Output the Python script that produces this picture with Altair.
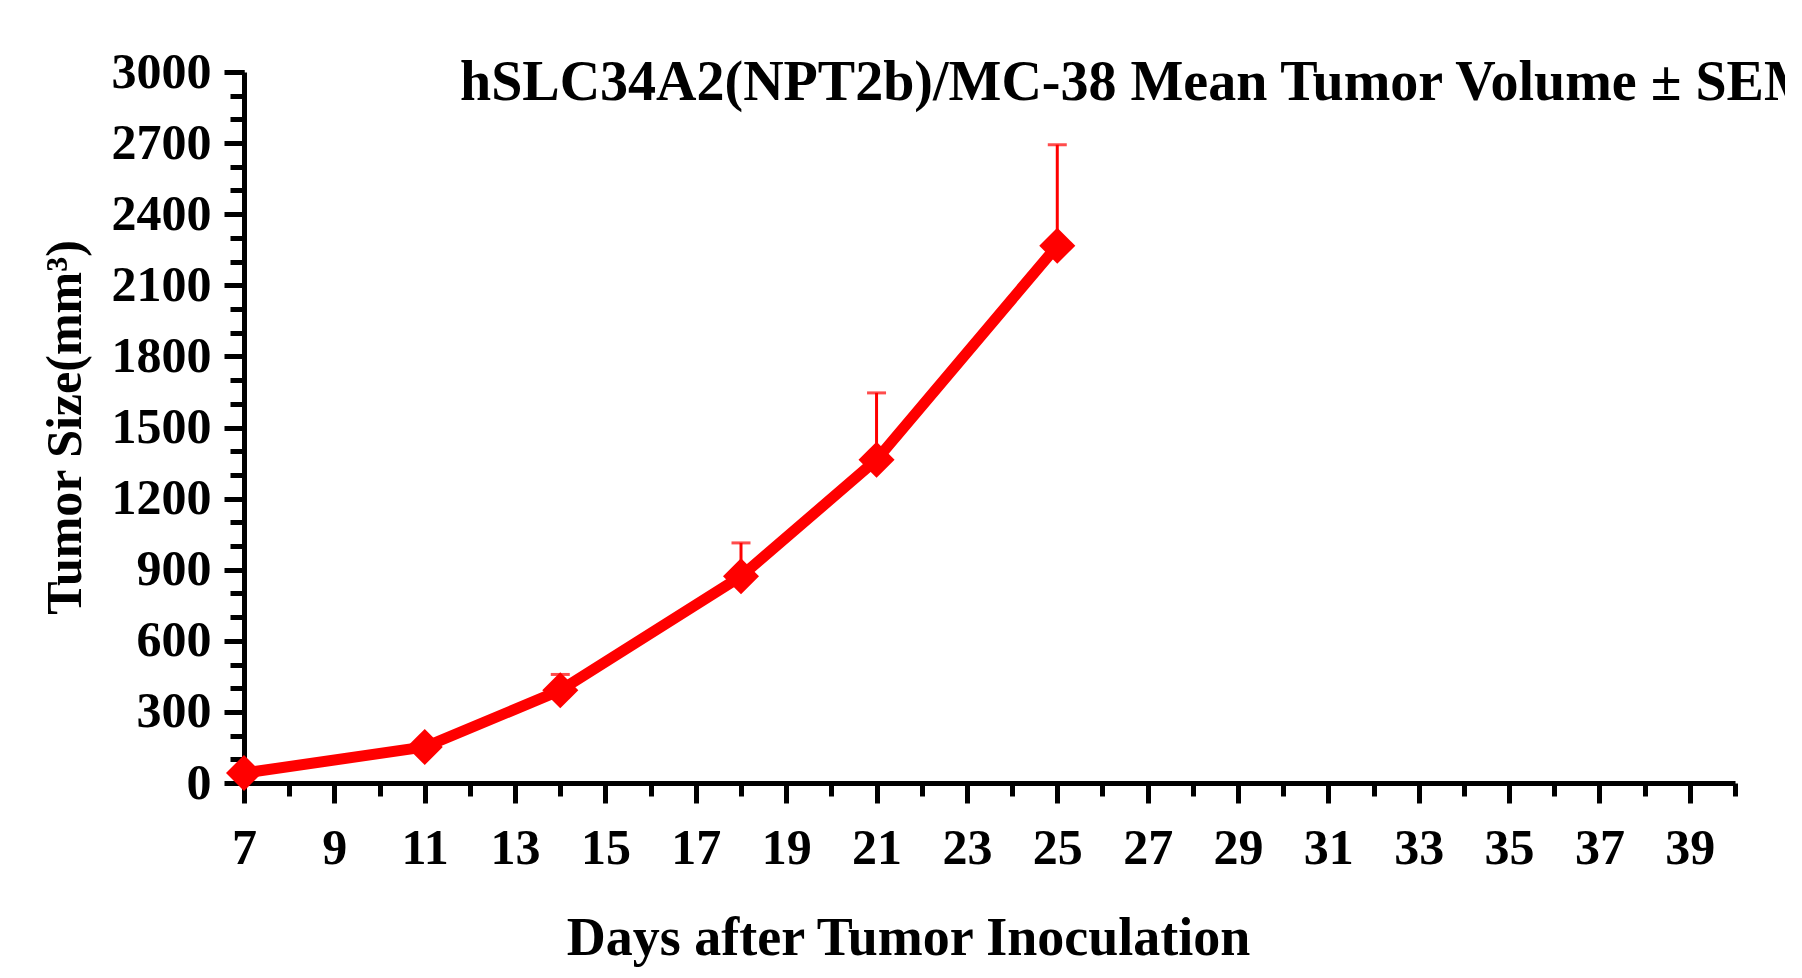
import altair as alt
import pandas as pd

# Data
days = [7, 11, 14, 18, 21, 25]
mean_volume = [42, 152, 391, 872, 1364, 2267]
sem_volume = [6, 18, 67, 141, 282, 426]

x_major = list(range(7, 40, 2))
x_minor = list(range(7, 41))
y_major = list(range(0, 3001, 300))
y_minor = list(range(0, 3001, 100))

title_text = "hSLC34A2(NPT2b)/MC-38 Mean Tumor Volume \u00b1 SEM"
x_title = "Days after Tumor Inoculation"
y_title = "Tumor Size(mm\u00b3)"

df = pd.DataFrame({"day": days, "mean": mean_volume, "sem": sem_volume})
df["upper"] = df["mean"] + df["sem"]

FONT = "Liberation Serif"
RED = "#ff0000"

xscale = alt.Scale(domain=[7, 40], nice=False, zero=False)
yscale = alt.Scale(domain=[0, 3000], nice=False, zero=True)

major_x_axis = alt.Axis(
    orient="bottom", values=x_major, tickSize=20, tickWidth=5, tickColor="black",
    domainColor="black", domainWidth=5, grid=False,
    labelFont=FONT, labelFontSize=50, labelFontWeight="bold", labelColor="black",
    labelPadding=20, labelFlush=False, labelOverlap=False, format="d",
    title=x_title, titleFont=FONT, titleFontSize=54, titleFontWeight="bold",
    titleColor="black", titleX=664, titleY=171, titleBaseline="alphabetic",
    titleAlign="center", titleAngle=0,
)
minor_x_axis = alt.Axis(
    orient="bottom", values=x_minor, tickSize=13, tickWidth=5, tickColor="black",
    domain=False, labels=False, grid=False, title=None,
)
major_y_axis = alt.Axis(
    orient="left", values=y_major, tickSize=20, tickWidth=5, tickColor="black",
    domainColor="black", domainWidth=5, grid=False,
    labelFont=FONT, labelFontSize=50, labelFontWeight="bold", labelColor="black",
    labelPadding=13, labelFlush=False, labelOverlap=False, format="d",
    title=y_title, titleFont=FONT, titleFontSize=50, titleFontWeight="bold",
    titleColor="black", titleX=-164, titleY=355, titleBaseline="alphabetic",
    titleAlign="center", titleAngle=270,
)
minor_y_axis = alt.Axis(
    orient="left", values=y_minor, tickSize=14, tickWidth=5, tickColor="black",
    domain=False, labels=False, grid=False, title=None,
)

base = alt.Chart(df)

err = base.mark_rule(color=RED, strokeWidth=3).encode(
    x=alt.X("day:Q", scale=xscale, axis=None),
    y=alt.Y("mean:Q", scale=yscale, axis=None),
    y2="upper:Q",
)
cap = base.mark_tick(color=RED, orient="horizontal", size=19, thickness=3).encode(
    x=alt.X("day:Q", scale=xscale, axis=None),
    y=alt.Y("upper:Q", scale=yscale, axis=None),
)
line = base.mark_line(color=RED, strokeWidth=11).encode(
    x=alt.X("day:Q", scale=xscale, axis=major_x_axis),
    y=alt.Y("mean:Q", scale=yscale, axis=major_y_axis),
)
pts = base.mark_point(shape="diamond", filled=True, size=1300, color=RED, opacity=1).encode(
    x=alt.X("day:Q", scale=xscale, axis=minor_x_axis),
    y=alt.Y("mean:Q", scale=yscale, axis=minor_y_axis),
)

chart = (
    alt.layer(err, cap, line, pts)
    .resolve_axis(x="independent", y="independent")
    .properties(
        width=1491,
        height=711,
        autosize=alt.AutoSizeParams(type="none"),
        padding={"left": 236, "top": 64, "right": 50, "bottom": 190},
        title=alt.TitleParams(
            text=title_text, anchor="start", frame="group", font=FONT, fontSize=56,
            fontWeight="bold", color="black", dx=216, dy=109, offset=0,
            baseline="alphabetic",
        ),
        background="white",
    )
    .configure_view(stroke=None)
)

chart.save("out.html", embed_options={"renderer": "svg", "actions": False})
